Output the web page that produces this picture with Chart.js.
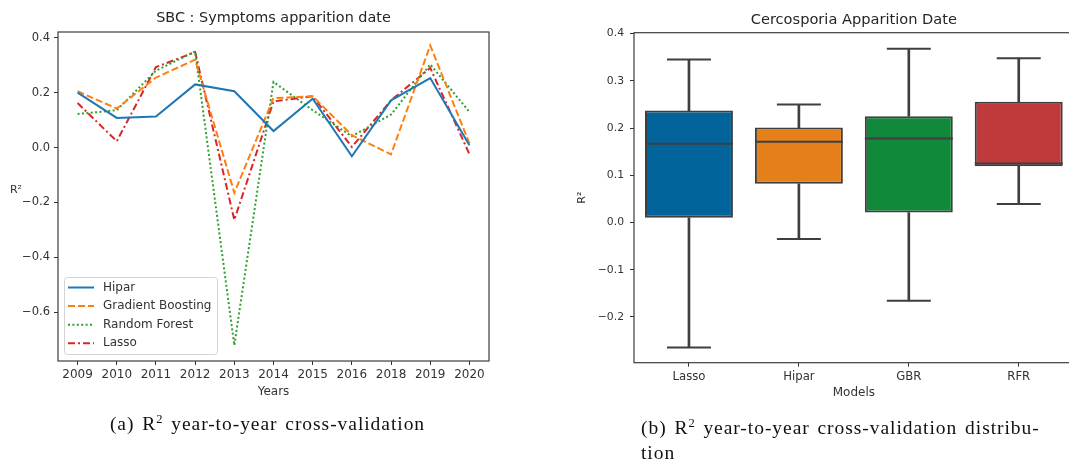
<!DOCTYPE html>
<html><head><meta charset="utf-8">
<script src="https://cdn.jsdelivr.net/npm/chart.js@4/dist/chart.umd.min.js"></script>
<style>
html,body{margin:0;padding:0;background:#fff;overflow:hidden;width:1069px;height:463px;}
#wrapA{position:absolute;left:0;top:0;width:540px;height:463px;}
#wrapB{position:absolute;left:540px;top:0;width:529px;height:463px;overflow:hidden;}
.cap{position:absolute;font-family:"Liberation Serif","DejaVu Serif",serif;font-size:19.5px;letter-spacing:0.95px;word-spacing:2px;color:#111;white-space:nowrap;line-height:18px;}
.cap sup{font-size:12.5px;vertical-align:7px;line-height:0;}
</style>
</head><body>
<div id="wrapA"><canvas id="cA" width="540" height="463"></canvas></div>
<div id="wrapB"><canvas id="cB" width="560" height="463"></canvas></div>
<div class="cap" style="left:0;width:535px;text-align:center;top:415px;">(a) R<sup>2</sup> year-to-year cross-validation</div>
<div class="cap" style="left:641px;top:419px;">(b) R<sup>2</sup> year-to-year cross-validation distribu-</div>
<div class="cap" style="left:641px;top:444px;">tion</div>
<script>
// ---- Data: left chart ----
const years = ['2009','2010','2011','2012','2013','2014','2015','2016','2018','2019','2020'];
const hipar = [0.200, 0.108, 0.113, 0.230, 0.205, 0.060, 0.178, -0.032, 0.172, 0.253, 0.008];
const gradientBoosting = [0.205, 0.142, 0.255, 0.320, -0.165, 0.180, 0.187, 0.045, -0.025, 0.372, 0.015];
const randomForest = [0.122, 0.136, 0.280, 0.350, -0.721, 0.239, 0.136, 0.041, 0.120, 0.303, 0.130];
const lasso = [0.162, 0.023, 0.293, 0.348, -0.264, 0.168, 0.187, 0.002, 0.172, 0.290, -0.024];
const leftTicks = [-0.6, -0.4, -0.2, 0.0, 0.2, 0.4];

// ---- Data: right chart (box plot) ----
const models = ['Lasso','Hipar','GBR','RFR'];
const whiskerLow = [-0.265, -0.035, -0.166, 0.039];
const q1 = [0.010, 0.082, 0.021, 0.119];
const median = [0.167, 0.171, 0.178, 0.125];
const q3 = [0.237, 0.201, 0.225, 0.256];
const whiskerHigh = [0.345, 0.250, 0.368, 0.348];
const rightTicks = [-0.2, -0.1, 0.0, 0.1, 0.2, 0.3, 0.4];

const FONT = "'DejaVu Sans', sans-serif";
const TXT = '#333';
const fmt = v => (Math.abs(v) < 1e-9 ? 0 : v).toFixed(1).replace('-', '\u2212');

// ---------- Left: line chart ----------
const leftPlugin = {
  id: 'leftDeco',
  afterDraw(chart) {
    const {ctx, chartArea: a} = chart;
    ctx.save();
    ctx.strokeStyle = '#3c3c3c'; ctx.lineWidth = 1.2;
    ctx.strokeRect(a.left, a.top, a.right - a.left, a.bottom - a.top);
    ctx.fillStyle = '#262626';
    ctx.font = "14.4px " + FONT; ctx.textAlign = 'center'; ctx.textBaseline = 'middle';
    ctx.fillText('SBC : Symptoms apparition date', (a.left + a.right) / 2, 18);
    ctx.font = "11px " + FONT; ctx.fillStyle = TXT;
    ctx.fillText('R\u00B2', 16, 190);
    // legend
    const lx = 64, ly = 277, lw = 153, lh = 77;
    ctx.fillStyle = 'rgba(255,255,255,0.85)'; ctx.strokeStyle = '#d4d4d4'; ctx.lineWidth = 1;
    ctx.beginPath(); ctx.roundRect(lx + 0.5, ly + 0.5, lw, lh, 3); ctx.fill(); ctx.stroke();
    ctx.font = "12px " + FONT; ctx.textAlign = 'left'; ctx.textBaseline = 'middle';
    chart.data.datasets.forEach((ds, i) => {
      const y = 287.5 + i * 18.6;
      ctx.strokeStyle = ds.borderColor; ctx.lineWidth = 2;
      ctx.setLineDash(ds.borderDash || []);
      ctx.beginPath(); ctx.moveTo(68, y); ctx.lineTo(94, y); ctx.stroke();
      ctx.setLineDash([]);
      ctx.fillStyle = TXT; ctx.fillText(ds.label, 103, y);
    });
    ctx.restore();
  }
};

new Chart(document.getElementById('cA'), {
  type: 'line',
  data: {
    labels: years,
    datasets: [
      {label: 'Hipar', data: hipar, borderColor: '#1f77b4', borderWidth: 2},
      {label: 'Gradient Boosting', data: gradientBoosting, borderColor: '#ff7f0e', borderWidth: 2, borderDash: [7, 3]},
      {label: 'Random Forest', data: randomForest, borderColor: '#2ca02c', borderWidth: 2, borderDash: [2, 2.4]},
      {label: 'Lasso', data: lasso, borderColor: '#d62728', borderWidth: 2, borderDash: [7, 3, 2, 3]}
    ]
  },
  options: {
    responsive: false, animation: false,
    layout: {padding: {left: 0, right: 51, top: 32, bottom: 0}},
    elements: {point: {radius: 0}, line: {tension: 0, fill: false}},
    plugins: {legend: {display: false}, tooltip: {enabled: false}},
    scales: {
      x: {
        offset: true,
        grid: {display: true, drawOnChartArea: false, drawTicks: true, tickLength: 4, color: '#333', offset: false},
        border: {display: false},
        ticks: {font: {family: FONT, size: 12}, color: TXT, padding: 3, maxRotation: 0, autoSkip: false},
        title: {display: true, text: 'Years', font: {family: FONT, size: 12}, color: TXT, padding: {top: 0, bottom: 63.8}},
        afterFit: s => { s.height = 102; }
      },
      y: {
        min: -0.778, max: 0.421,
        grid: {display: true, drawOnChartArea: false, drawTicks: true, tickLength: 4, color: '#333'},
        border: {display: false},
        ticks: {font: {family: FONT, size: 11.5}, color: TXT, padding: 4, callback: v => fmt(v)},
        afterBuildTicks: s => { s.ticks = leftTicks.map(v => ({value: v})); },
        afterFit: s => { s.width = 58; }
      }
    }
  },
  plugins: [leftPlugin]
});

// ---------- Right: box plot ----------
const boxColors = ['#02649b', '#e57f1a', '#11893a', '#c03a3b'];
const LINE = '#3f3f3f';
const rightPlugin = {
  id: 'rightDeco',
  afterDatasetsDraw(chart) {
    const {ctx} = chart;
    const xs = chart.scales.x, ys = chart.scales.y;
    const boxes = chart.getDatasetMeta(0).data;
    ctx.save();
    ctx.strokeStyle = LINE; ctx.lineWidth = 2;
    models.forEach((m, i) => {
      const cx = xs.getPixelForValue(i);
      const hw = boxes[i].width / 2;
      const cw = hw / 2;
      const ym = ys.getPixelForValue(median[i]);
      ctx.beginPath(); ctx.moveTo(cx - hw, ym); ctx.lineTo(cx + hw, ym); ctx.stroke();
      [whiskerLow[i], whiskerHigh[i]].forEach(v => {
        const yy = ys.getPixelForValue(v);
        ctx.beginPath(); ctx.moveTo(cx - cw, yy); ctx.lineTo(cx + cw, yy); ctx.stroke();
      });
    });
    ctx.restore();
  },
  afterDraw(chart) {
    const {ctx, chartArea: a} = chart;
    ctx.save();
    ctx.strokeStyle = '#3c3c3c'; ctx.lineWidth = 1.2;
    ctx.strokeRect(a.left, a.top, a.right - a.left, a.bottom - a.top);
    ctx.fillStyle = '#262626';
    ctx.font = "14.6px " + FONT; ctx.textAlign = 'center'; ctx.textBaseline = 'middle';
    ctx.fillText('Cercosporia Apparition Date', (a.left + a.right) / 2, 20);
    ctx.restore();
  }
};

new Chart(document.getElementById('cB'), {
  type: 'bar',
  data: {
    labels: models,
    datasets: [
      {label: 'box', data: models.map((m, i) => [q1[i], q3[i]]), backgroundColor: boxColors,
       borderColor: LINE, borderWidth: 2, borderSkipped: false, grouped: false,
       barPercentage: 0.8, categoryPercentage: 1},
      {label: 'upper whisker', data: models.map((m, i) => [q3[i], whiskerHigh[i]]), backgroundColor: LINE,
       borderWidth: 0, grouped: false, barThickness: 2},
      {label: 'lower whisker', data: models.map((m, i) => [whiskerLow[i], q1[i]]), backgroundColor: LINE,
       borderWidth: 0, grouped: false, barThickness: 2}
    ]
  },
  options: {
    responsive: false, animation: false,
    layout: {padding: {left: 0, right: 26.3, top: 32.7, bottom: 0}},
    plugins: {legend: {display: false}, tooltip: {enabled: false}},
    scales: {
      x: {
        offset: true,
        grid: {display: true, drawOnChartArea: false, drawTicks: true, tickLength: 4, color: '#333', offset: false},
        border: {display: false},
        ticks: {font: {family: FONT, size: 11.7}, color: TXT, padding: 3, maxRotation: 0},
        title: {display: true, text: 'Models', font: {family: FONT, size: 12}, color: TXT, padding: {top: 0, bottom: 62.8}},
        afterFit: s => { s.height = 100.3; }
      },
      y: {
        min: -0.297, max: 0.402,
        grid: {display: true, drawOnChartArea: false, drawTicks: true, tickLength: 4, color: '#333'},
        border: {display: false},
        ticks: {font: {family: FONT, size: 10.8}, color: TXT, padding: 6, callback: v => fmt(v)},
        title: {display: true, text: 'R\u00B2', font: {family: FONT, size: 11}, color: TXT, padding: {top: 36, bottom: 0}},
        afterBuildTicks: s => { s.ticks = rightTicks.map(v => ({value: v})); },
        afterFit: s => { s.width = 94; }
      }
    }
  },
  plugins: [rightPlugin]
});
</script>
</body></html>
